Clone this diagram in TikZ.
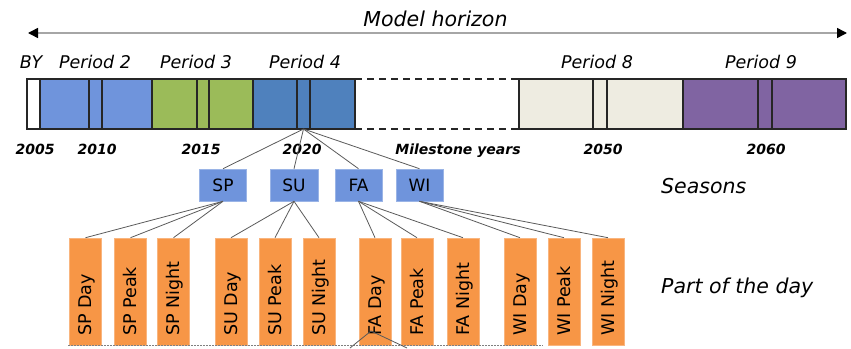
\documentclass[tikz,border=0pt]{standalone}
\usepackage{fontspec}
\setmainfont{DejaVu Sans}
\usetikzlibrary{arrows.meta}
\definecolor{ptwo}{RGB}{111,148,220}
\definecolor{pthree}{RGB}{155,187,89}
\definecolor{pfour}{RGB}{79,129,189}
\definecolor{peight}{RGB}{238,236,225}
\definecolor{pnine}{RGB}{128,100,162}
\definecolor{podc}{RGB}{247,150,70}
\definecolor{seasc}{RGB}{111,148,220}
\definecolor{linec}{RGB}{90,90,90}
\tikzset{
  seg/.style={draw=black!85, line width=1.4pt, minimum height=50pt, inner sep=0pt, anchor=north west, outer sep=0pt},
  seasbox/.style={fill=seasc, draw=seasc!70!white, line width=0.6pt, minimum height=32pt, minimum width=47pt, inner sep=0pt, font=\fontsize{17}{20}\selectfont},
  podbox/.style={fill=podc, draw=podc!70!white, line width=0.6pt, minimum height=107pt, minimum width=32pt, inner sep=0pt},
  podlab/.style={rotate=90, anchor=base west, inner sep=0pt, font=\fontsize{17.5}{20}\selectfont},
  perlab/.style={anchor=base, inner sep=0pt, font=\fontsize{17.5}{20}\selectfont\itshape},
  yrlab/.style={anchor=base, inner sep=0pt, font=\fontsize{14}{16}\selectfont\bfseries\itshape},
  biglab/.style={inner sep=0pt, font=\fontsize{20.5}{24}\selectfont\itshape},
  conn/.style={draw=linec, line width=0.8pt},
}
\begin{document}
\begin{tikzpicture}[x=1pt,y=-1pt]
\useasboundingbox (0,0) rectangle (851,348);
% horizon arrow
\coordinate (hl) at (28,33);
\coordinate (hr) at (847,33);
\draw[gray!70, line width=1.5pt, {Triangle[black,length=10pt,width=10pt]}-{Triangle[black,length=10pt,width=10pt]}] (hl) -- (hr);
\node[biglab, anchor=base] (mh) at (435.5,26) {Model horizon};
% dashed part
\draw[black!85, line width=1.6pt, dash pattern=on 7pt off 5pt] (355,79) -- (519,79) (355,129) -- (519,129);
% bar
\node[seg, fill=white, minimum width=13pt] (by) at (27,79) {};
\node[seg, fill=ptwo, minimum width=112pt] (p2) at (40,79) {};
\node[seg, fill=ptwo, minimum width=13pt] (p2m) at (89,79) {};
\node[seg, fill=pthree, minimum width=101pt] (p3) at (152,79) {};
\node[seg, fill=pthree, minimum width=12pt] (p3m) at (197,79) {};
\node[seg, fill=pfour, minimum width=102pt] (p4) at (253,79) {};
\node[seg, fill=pfour, minimum width=13pt] (p4m) at (297,79) {};
\node[seg, fill=peight, minimum width=164pt] (p8) at (519,79) {};
\node[seg, fill=peight, minimum width=14pt] (p8m) at (593,79) {};
\node[seg, fill=pnine, minimum width=163pt] (p9) at (683,79) {};
\node[seg, fill=pnine, minimum width=14pt] (p9m) at (758,79) {};
% period labels
\node[perlab] (lby) at (31,68) {BY};
\node[perlab] (lp2) at (95,68) {Period 2};
\node[perlab] (lp3) at (196,68) {Period 3};
\node[perlab] (lp4) at (305,68) {Period 4};
\node[perlab] (lp8) at (597,68) {Period 8};
\node[perlab] (lp9) at (761,68) {Period 9};
% years
\node[yrlab] (y05) at (35,154) {2005};
\node[yrlab] (y10) at (97,154) {2010};
\node[yrlab] (y15) at (201,154) {2015};
\node[yrlab] (y20) at (302,154) {2020};
\node[yrlab] (ms) at (458,154) {Milestone years};
\node[yrlab] (y50) at (603,154) {2050};
\node[yrlab] (y60) at (766,154) {2060};
% seasons
\node[seasbox] (sp) at (223,185) {SP};
\node[seasbox, minimum width=48pt] (su) at (294,185) {SU};
\node[seasbox] (fa) at (358.5,185) {FA};
\node[seasbox] (wi) at (419.5,185) {WI};
\foreach \s in {sp,su,fa,wi} \draw[conn] (p4m.south) -- (\s.north);
\node[biglab, anchor=base west] (seas) at (661,193) {Seasons};
\node[biglab, anchor=base west] (potd) at (661,293) {Part of the day};
% parts of the day
\foreach \n/\x/\t in {spd/85.5/SP Day, spp/130.5/SP Peak, spn/173.5/SP Night,
                      sud/231/SU Day, sup/275/SU Peak, sun/319/SU Night,
                      fad/375/FA Day, fap/417/FA Peak, fan/463/FA Night,
                      wid/520/WI Day, wip/564/WI Peak, win/608/WI Night}{
  \node[podbox] (\n) at (\x,291.5) {};
  \node[podlab] (\n-l) at (\x+6.3,336) {\t};
}
\foreach \s/\a/\b/\c in {sp/spd/spp/spn, su/sud/sup/sun, fa/fad/fap/fan, wi/wid/wip/win}{
  \draw[conn] (\s.south) -- (\a.north);
  \draw[conn] (\s.south) -- (\b.north);
  \draw[conn] (\s.south) -- (\c.north);
}
% cut-off bottom
\coordinate (dl) at (68,345);
\coordinate (dr) at (543,345);
\draw[gray, line width=1pt, dash pattern=on 1.5pt off 1.5pt] (dl) -- (dr);
\coordinate (ap) at (371,331);
\coordinate (a1) at (350,348);
\coordinate (a2) at (407,348);
\draw[conn] (a1) -- (ap) -- (a2);
\end{tikzpicture}
\end{document}
